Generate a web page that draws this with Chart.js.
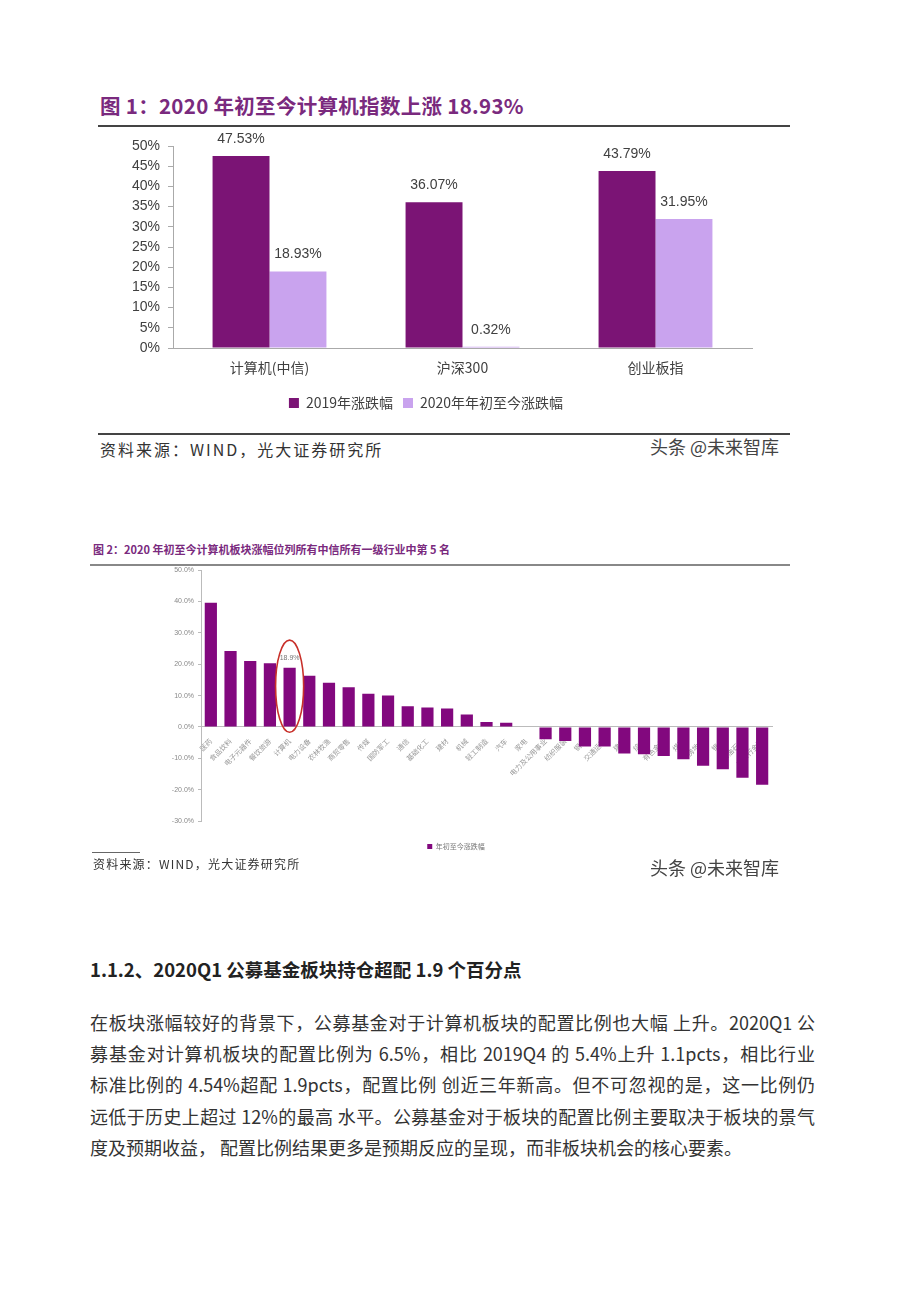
<!DOCTYPE html>
<html>
<head>
<meta charset="utf-8">
<script src="https://cdn.jsdelivr.net/npm/chart.js@4.4.0/dist/chart.umd.min.js"></script>
<style>
  body { margin: 0; background: #fff; width: 920px; height: 1302px; position: relative; overflow: hidden;
         font-family: "Noto Sans CJK SC", "Noto Sans", sans-serif; color: #333; }
  .abs { position: absolute; white-space: nowrap; }
  .title1 { left: 100px; top: 90px; font-size: 20.5px; letter-spacing: 0.3px; font-weight: bold; color: #7a2a7e; }
  .title2 { left: 93px; top: 541px; font-size: 11px; font-weight: bold; color: #7a2a7e; }
  .rule { position: absolute; height: 2px; background: #444; }
  .src { font-size: 16px; letter-spacing: 2px; color: #333; }
  .mark { font-size: 18px; color: #444; }
  .head { left: 90px; top: 956px; font-size: 18.5px; font-weight: bold; color: #222; }
  .para { left: 90px; top: 1007px; width: 725px; font-size: 18px; color: #333; line-height: 31.2px; }
  .para div { text-align: justify; text-align-last: justify; white-space: nowrap; }
  .para div.last { text-align-last: left; }
</style>
</head>
<body>

<div class="abs title1">图 1：2020 年初至今计算机指数上涨 18.93%</div>
<div class="rule" style="left:98px; top:125px; width:692px;"></div>
<div class="abs" style="left:100px; top:128px; width:690px; height:300px;"><canvas id="c1"></canvas></div>
<div class="rule" style="left:98px; top:433px; width:692px;"></div>
<div class="abs src" style="left:100px; top:437px;">资料来源：WIND，光大证券研究所</div>
<div class="abs mark" style="left:650px; top:433px;">头条 @未来智库</div>

<div class="abs title2">图 2：2020 年初至今计算机板块涨幅位列所有中信所有一级行业中第 5 名</div>
<div class="rule" style="left:90px; top:564px; width:700px; background:#888;"></div>
<div class="abs" style="left:140px; top:562px; width:650px; height:307px;"><canvas id="c2"></canvas></div>
<div class="rule" style="left:92px; top:852px; width:48px; height:1px; background:#666;"></div>
<div class="abs src" style="left:93px; top:855px; font-size:12px; letter-spacing:1.2px;">资料来源：WIND，光大证券研究所</div>
<div class="abs mark" style="left:650px; top:854px;">头条 @未来智库</div>

<div class="abs head">1.1.2、2020Q1 公募基金板块持仓超配 1.9 个百分点</div>
<div class="abs para">
  <div>在板块涨幅较好的背景下，公募基金对于计算机板块的配置比例也大幅 上升。2020Q1 公</div>
  <div>募基金对计算机板块的配置比例为 6.5%，相比 2019Q4 的 5.4%上升 1.1pcts，相比行业</div>
  <div>标准比例的 4.54%超配 1.9pcts，配置比例 创近三年新高。但不可忽视的是，这一比例仍</div>
  <div>远低于历史上超过 12%的最高 水平。公募基金对于板块的配置比例主要取决于板块的景气</div>
  <div class="last">度及预期收益， 配置比例结果更多是预期反应的呈现，而非板块机会的核心要素。</div>
</div>

<script>
// --- Chart 1 data ---
const indexNames = ['计算机(中信)', '沪深300', '创业板指'];
const change2019 = [47.53, 36.07, 43.79];
const change2020 = [18.93, 0.32, 31.95];
const seriesNames = ['2019年涨跌幅', '2020年年初至今涨跌幅'];

// --- Chart 2 data ---
const industries = ['医药', '食品饮料', '电子元器件', '餐饮旅游', '计算机', '电力设备', '农林牧渔', '商贸零售',
  '传媒', '国防军工', '通信', '基础化工', '建材', '机械', '轻工制造', '汽车', '家电', '电力及公用事业',
  '纺织服装', '钢铁', '交通运输', '建筑', '综合', '有色金属', '煤炭', '房地产', '银行', '石油石化', '非银行金融'];
const ytdChange = [39.6, 24.2, 21.0, 20.3, 18.9, 16.3, 14.1, 12.7,
  10.6, 10.0, 6.6, 6.2, 5.9, 4.0, 1.6, 1.3, -0.2, -3.9,
  -4.5, -6.2, -6.2, -8.5, -8.7, -9.3, -10.3, -12.4, -13.5, -16.2, -18.4];
const ytdName = '年初至今涨跌幅';
const highlightIndex = 4; // 计算机

const latin = '"Liberation Sans", Arial, sans-serif';
const cjk = '"Noto Sans CJK SC", "Liberation Sans", sans-serif';

// value labels above the bars of chart 1
const valueLabels = {
    id: 'valueLabels',
    afterDatasetsDraw(chart) {
        const ctx = chart.ctx;
        ctx.save();
        ctx.font = '14px ' + latin;
        ctx.fillStyle = '#404040';
        ctx.textAlign = 'center';
        ctx.textBaseline = 'middle';
        chart.data.datasets.forEach((ds, i) => {
            chart.getDatasetMeta(i).data.forEach((bar, j) => {
                ctx.fillText(ds.data[j].toFixed(2) + '%', bar.x, bar.y - 17);
            });
        });
        ctx.restore();
    }
};

new Chart(document.getElementById('c1'), {
    type: 'bar',
    data: {
        labels: indexNames,
        datasets: [
            { label: seriesNames[0], data: change2019, backgroundColor: '#7b1475' },
            { label: seriesNames[1], data: change2020, backgroundColor: '#c9a3ee' }
        ]
    },
    options: {
        responsive: true,
        maintainAspectRatio: false,
        animation: false,
        layout: { padding: { top: 18, right: 38, bottom: 8 } },
        categoryPercentage: 0.59,
        barPercentage: 1.0,
        plugins: {
            legend: {
                position: 'bottom',
                labels: { font: { size: 14, family: cjk }, color: '#404040', boxWidth: 10, boxHeight: 10, padding: 10 }
            },
            tooltip: { enabled: false }
        },
        scales: {
            x: {
                grid: { display: false },
                border: { color: '#aaa' },
                ticks: { font: { size: 14, family: cjk }, color: '#404040', padding: 3 },
                afterFit: s => { s.height = 38; }
            },
            y: {
                min: 0, max: 50,
                ticks: { stepSize: 5, callback: v => v + '%', font: { size: 14, family: latin }, color: '#404040', padding: 8 },
                grid: { drawOnChartArea: false, tickLength: 5, color: '#aaa' },
                border: { color: '#aaa' },
                afterFit: s => { s.width = 73; }
            }
        }
    },
    plugins: [valueLabels]
});

// label + red ellipse on the highlighted bar of chart 2
const highlight = {
    id: 'highlight',
    afterDatasetsDraw(chart) {
        const ctx = chart.ctx;
        const bar = chart.getDatasetMeta(0).data[highlightIndex];
        const y = chart.scales.y;
        ctx.save();
        ctx.font = '7px ' + latin;
        ctx.fillStyle = '#777';
        ctx.textAlign = 'center';
        ctx.textBaseline = 'middle';
        ctx.fillText(ytdChange[highlightIndex].toFixed(1) + '%', bar.x, bar.y - 10);
        const top = y.getPixelForValue(27.7), bottom = y.getPixelForValue(-1.7);
        ctx.strokeStyle = '#c8302a';
        ctx.lineWidth = 1.6;
        ctx.beginPath();
        ctx.ellipse(bar.x, (top + bottom) / 2, bar.width * 1.15, (bottom - top) / 2, 0, 0, Math.PI * 2);
        ctx.stroke();
        ctx.restore();
    }
};

new Chart(document.getElementById('c2'), {
    type: 'bar',
    data: {
        labels: industries,
        datasets: [{ label: ytdName, data: ytdChange, backgroundColor: '#82087e' }]
    },
    options: {
        responsive: true,
        maintainAspectRatio: false,
        animation: false,
        layout: { padding: { top: 8, right: 18, bottom: 9 } },
        categoryPercentage: 1.0,
        barPercentage: 0.62,
        plugins: {
            legend: {
                position: 'bottom',
                labels: { font: { size: 7, family: cjk }, color: '#777', boxWidth: 5, boxHeight: 5, padding: 22 }
            },
            tooltip: { enabled: false }
        },
        scales: {
            x: {
                position: { y: 0 },
                grid: { display: false },
                border: { color: '#bbb' },
                ticks: { font: { size: 7, family: cjk }, color: '#999', minRotation: 45, maxRotation: 45, autoSkip: false, padding: 2 },
                afterFit: s => { s.height = 0; }
            },
            y: {
                min: -30, max: 50,
                ticks: { stepSize: 10, callback: v => v.toFixed(1) + '%', font: { size: 7, family: latin }, color: '#888', padding: 4 },
                grid: { drawOnChartArea: false, tickLength: 3, color: '#bbb' },
                border: { color: '#bbb' },
                afterFit: s => { s.width = 61; }
            }
        }
    },
    plugins: [highlight]
});
</script>
</body>
</html>
